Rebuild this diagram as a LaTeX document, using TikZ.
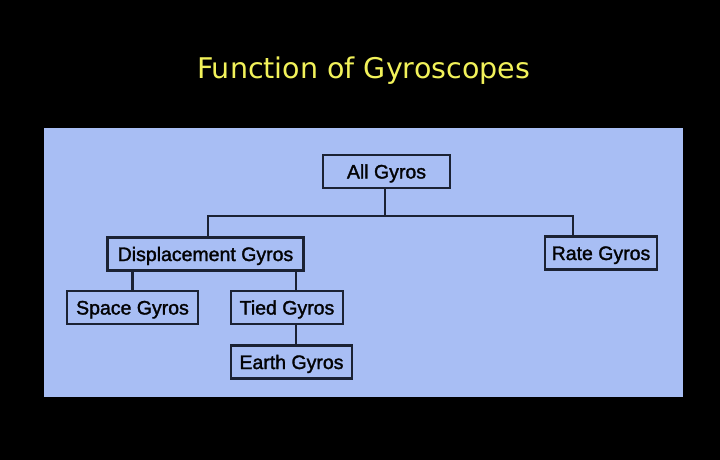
\documentclass[tikz,border=0pt]{standalone}
\usepackage{fontspec}
\setmainfont{Liberation Sans}
\newfontfamily\boxfont{Liberation Sans}[FakeBold=1.6]
\newfontfamily\titlefont{DejaVu Sans}
\usepackage{xcolor}
\definecolor{colorPanel}{HTML}{A8BEF4}
\definecolor{colorFrame}{HTML}{1B2233}
\definecolor{colorTitle}{HTML}{F2F25A}
\usetikzlibrary{positioning}
\tikzset{gyrobox/.style={draw=colorFrame, line width=2.5pt, fill=colorPanel, text=black!90!colorFrame,
    inner sep=0pt, minimum height=33pt, text height=14pt, text depth=0pt,
    font=\boxfont\fontsize{19.5}{21}\selectfont},
  link/.style={draw=colorFrame, line width=2.5pt}}

\begin{document}
\begin{tikzpicture}[x=1pt, y=-1pt]
\fill[black] (0,0) rectangle (720,460);
\useasboundingbox (0,0) rectangle (720,460);
\fill[colorPanel] (44,128) rectangle (683,397);
\node[text=colorTitle, anchor=base, font=\titlefont\fontsize{28.5}{30}\selectfont] (title) at (363.5,78) {Function of Gyroscopes};
\node[gyrobox, minimum width=127pt] (all) at (386.5,171.5) {All Gyros};
\node[gyrobox, minimum width=196pt] (disp) at (205.5,254) {Displacement Gyros};
\node[gyrobox, minimum width=112pt] (rate) at (601,253) {Rate Gyros};
\node[gyrobox, minimum width=131pt] (space) at (132.5,307.5) {Space Gyros};
\node[gyrobox, minimum width=112pt] (tied) at (287,307.5) {Tied Gyros};
\node[gyrobox, minimum width=121pt] (earth) at (291.5,362) {Earth Gyros};
\coordinate (barL) at (208,216);
\coordinate (barR) at (573,216);
\coordinate (tiedJoint) at (296,291);
% tree links
\draw[link] (all.south -| 385,0) -- (385,216);
\draw[link] (barL |- disp.north) -- (barL) -- (barR) -- (barR |- rate.north);
\draw[link] (space.north) -- (space.north |- disp.south);
\draw[link] (tiedJoint |- disp.south) -- (tiedJoint |- tied.north);
\draw[link] (tiedJoint |- tied.south) -- (tiedJoint |- earth.north);
\end{tikzpicture}
\end{document}
